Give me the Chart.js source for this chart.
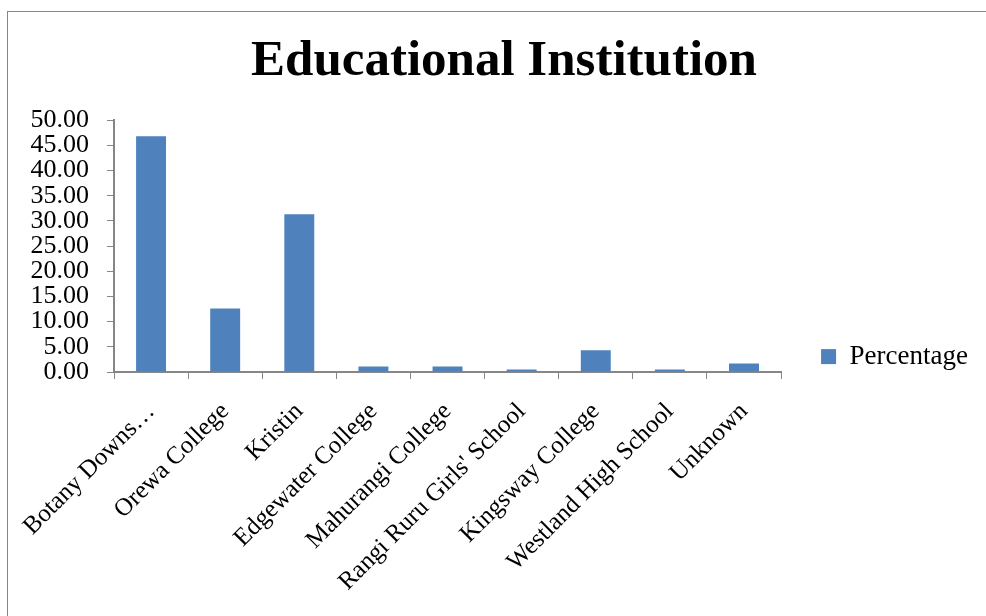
<!DOCTYPE html>
<html>
<head>
<meta charset="utf-8">
<script src="https://cdn.jsdelivr.net/npm/chart.js@4.4.0/dist/chart.umd.min.js"></script>
<style>
  html, body { margin: 0; padding: 0; background: #fff; }
</style>
</head>
<body>
<canvas id="c" width="986" height="616"></canvas>
<script>
const categories = [
  "Botany Downs\u2026",
  "Orewa College",
  "Kristin",
  "Edgewater College",
  "Mahurangi College",
  "Rangi Ruru Girls' School",
  "Kingsway College",
  "Westland High School",
  "Unknown"
];
const percentage = [46.8, 12.6, 31.3, 1.1, 1.1, 0.5, 4.3, 0.5, 1.7];
const seriesName = "Percentage";
const chartTitle = "Educational Institution";
const yMin = 0, yMax = 50, yStep = 5;

const FONT = "'Liberation Serif', 'Times New Roman', serif";
const PAD_L = 30, PAD_R = 8;

const frame = {
  id: 'frame',
  beforeDraw(chart) {
    const ctx = chart.ctx;
    ctx.save();
    ctx.fillStyle = '#ffffff';
    ctx.fillRect(0, 0, chart.width, chart.height);
    ctx.strokeStyle = '#868686';
    ctx.lineWidth = 1;
    ctx.strokeRect(7.5, 11.5, 1000, 700);
    ctx.restore();
  }
};

new Chart(document.getElementById('c'), {
  type: 'bar',
  data: {
    labels: categories,
    datasets: [{
      label: seriesName,
      data: percentage,
      backgroundColor: '#4F81BD',
      borderWidth: 0,
      categoryPercentage: 1.0,
      barPercentage: 0.404
    }]
  },
  options: {
    responsive: false,
    animation: false,
    layout: { padding: { top: 22, left: PAD_L, right: PAD_R, bottom: 0 } },
    plugins: {
      title: {
        display: true,
        text: chartTitle,
        color: '#000',
        font: { family: FONT, size: 51, weight: 'bold', lineHeight: 1.2 },
        padding: { top: 9, bottom: 28 }
      },
      legend: {
        position: 'right',
        align: 'center',
        title: { display: true, text: ' ', font: { size: 16 }, padding: 28 },
        labels: {
          color: '#000',
          font: { family: FONT, size: 27 },
          boxWidth: 15,
          boxHeight: 15,
          padding: 40
        }
      },
      tooltip: { enabled: false }
    },
    scales: {
      x: {
        grid: {
          display: true,
          drawOnChartArea: false,
          drawTicks: true,
          tickLength: 7,
          color: '#868686',
          offset: true
        },
        border: { display: true, color: '#868686', width: 2 },
        ticks: {
          color: '#000',
          font: { family: FONT, size: 25 },
          minRotation: 45,
          maxRotation: 45,
          autoSkip: false,
          padding: 18
        },
        afterFit(scale) { scale.height = 244; }
      },
      y: {
        min: yMin,
        max: yMax,
        grid: {
          display: true,
          drawOnChartArea: false,
          drawTicks: true,
          tickLength: 7,
          color: '#868686'
        },
        border: { display: true, color: '#868686', width: 2 },
        ticks: {
          stepSize: yStep,
          autoSkip: false,
          color: '#000',
          font: { family: FONT, size: 26 },
          padding: 18,
          callback: (v) => Number(v).toFixed(2)
        },
        afterFit(scale) { scale.width = 114 - PAD_L; }
      }
    }
  },
  plugins: [frame]
});
</script>
</body>
</html>
